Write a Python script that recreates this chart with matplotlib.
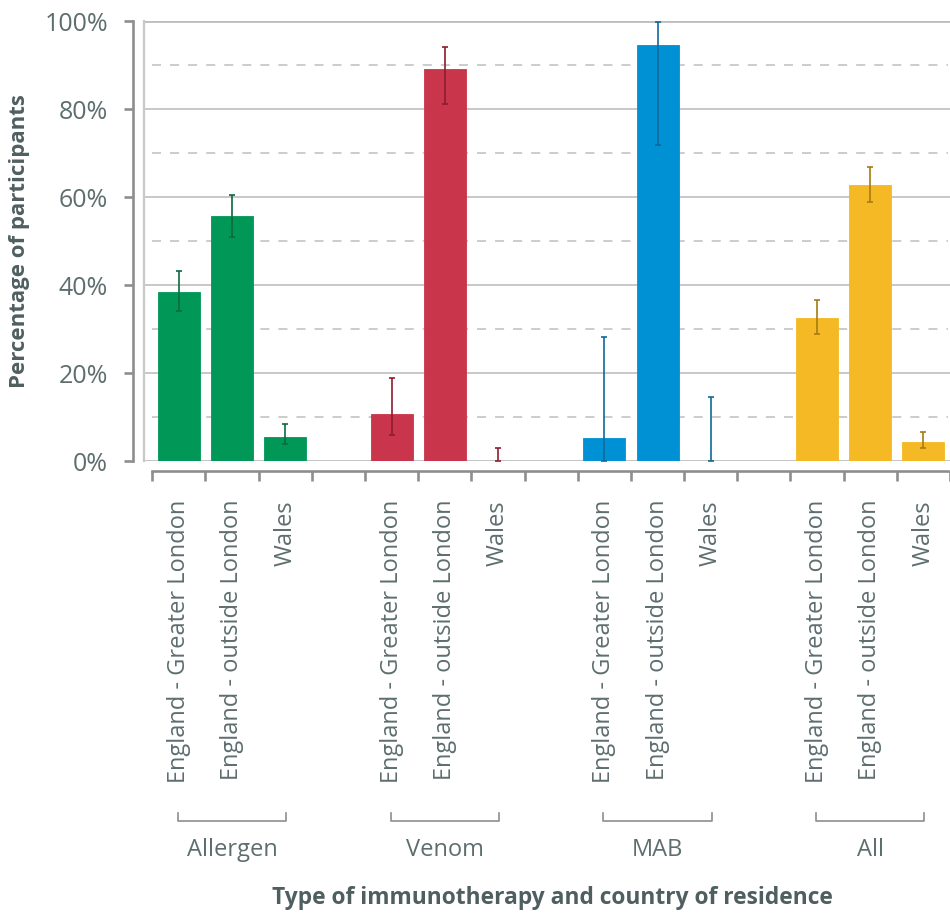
import matplotlib
matplotlib.use("Agg")
import matplotlib.pyplot as plt
import matplotlib.transforms as mtransforms
import numpy as np

plt.rcParams['font.family'] = ['Open Sans', 'DejaVu Sans']

groups = ["Allergen", "Venom", "MAB", "All"]
regions = ["England - Greater London", "England - outside London", "Wales"]
colors = ["#009757", "#C9354A", "#0091D4", "#F4B924"]
err_colors = ["#0B6B40", "#8E1E2E", "#0E6A98", "#A67C12"]

values = [
    [38.4, 55.6, 5.4],
    [10.6, 89.1, 0.0],
    [5.2, 94.6, 0.0],
    [32.6, 62.7, 4.3],
]
ci_low = [
    [34.0, 51.0, 3.8],
    [5.8, 81.2, 0.0],
    [0.0, 71.9, 0.0],
    [28.8, 58.8, 3.0],
]
ci_high = [
    [43.2, 60.4, 8.3],
    [18.9, 94.2, 3.0],
    [28.1, 99.8, 14.6],
    [36.7, 66.8, 6.5],
]

TEXT = "#5E6E6E"
TEXT_BOLD = "#4F5F60"
AXC = "#8E8E8E"
PX = 0.72  # points per pixel at dpi 100
W, H = 950, 914
fig = plt.figure(figsize=(W / 100, H / 100), dpi=100)

left_px, right_px, top_px, bot_px = 144, 950, 21, 461
ax = fig.add_axes([left_px / W, 1 - bot_px / H, (right_px - left_px) / W, (bot_px - top_px) / H])

slot = 53.33
x0_px = 179
xmin = (left_px - x0_px) / slot
xmax = (right_px - x0_px) / slot

positions = []
labels = []
for gi, g in enumerate(groups):
    for ri, r in enumerate(regions):
        x = gi * 4 + ri
        positions.append(x)
        labels.append(r)
        v = values[gi][ri]
        lo = ci_low[gi][ri]
        hi = ci_high[gi][ri]
        ax.bar(x, v, width=0.79, color=colors[gi], edgecolor=colors[gi], linewidth=0.6, zorder=3)
        ax.errorbar(x, v, yerr=[[v - lo], [hi - v]], fmt='none', ecolor=err_colors[gi],
                    elinewidth=1.2, capsize=2.0, capthick=1.2, zorder=4)

ax.set_xlim(xmin, xmax)
ax.set_ylim(0, 100)

# grid
for y in range(0, 101, 20):
    edge = y in (0, 100)
    ax.axhline(y, color="#BDBDBD" if edge else "#C8C8C8", lw=2.0 if edge else 1.4, zorder=1)
for y in range(10, 100, 20):
    ax.plot([-0.5, xmax], [y, y], color="#C8C8C8", lw=1.3, dashes=(5, 5), zorder=1)
ax.plot([0, 0], [0, 1], transform=ax.transAxes, color="#C8C8C8", lw=1.6, zorder=1, clip_on=False)

for s in ['top', 'right']:
    ax.spines[s].set_visible(False)
ax.spines['left'].set_position(('outward', 11 * PX))
ax.spines['left'].set_color(AXC)
ax.spines['left'].set_linewidth(1.9)
ax.spines['bottom'].set_position(('outward', 10 * PX))
ax.spines['bottom'].set_color(AXC)
ax.spines['bottom'].set_linewidth(1.9)
ax.spines['bottom'].set_bounds(-0.5, xmax)

ax.set_yticks(range(0, 101, 20))
ax.set_yticklabels([f"{v}%" for v in range(0, 101, 20)])
ax.tick_params(axis='y', length=9 * PX, width=1.9, color=AXC, pad=16 * PX, labelsize=18, labelcolor=TEXT)

ax.set_xticks(np.arange(-0.5, 15, 1.0))
ax.set_xticklabels([])
ax.tick_params(axis='x', which='major', length=10 * PX, width=1.9, color=AXC)
ax.set_xticks(positions, minor=True)
ax.set_xticklabels(labels, minor=True, rotation=90, fontsize=17, color=TEXT, va='top', ha='center')
ax.tick_params(axis='x', which='minor', length=0, pad=29 * PX)

ax.set_ylabel("Percentage of participants", fontsize=16, fontweight='bold', color=TEXT_BOLD)
ax.yaxis.set_label_coords(20 / W, 1 - 241 / H, transform=fig.transFigure)
ax.yaxis.label.set_va('center')
ax.yaxis.label.set_ha('center')

# group brackets and labels
trans = mtransforms.blended_transform_factory(ax.transData, fig.transFigure)
y_line = 1 - 821 / H
y_top = 1 - 813 / H
for gi, g in enumerate(groups):
    xa = gi * 4 - 0.02
    xb = gi * 4 + 2 + 0.02
    ax.plot([xa, xa, xb, xb], [y_top, y_line, y_line, y_top], transform=trans, color=AXC,
            lw=1.2, clip_on=False)
    ax.text(gi * 4 + 1, 1 - 850 / H, g, transform=trans, ha='center', va='center', fontsize=17, color=TEXT)

fig.text((272 + 833) / 2 / W, 1 - 898 / H, "Type of immunotherapy and country of residence",
         ha='center', va='center', fontsize=16.4, fontweight='bold', color=TEXT_BOLD)

fig.savefig("out.png", dpi=100)
